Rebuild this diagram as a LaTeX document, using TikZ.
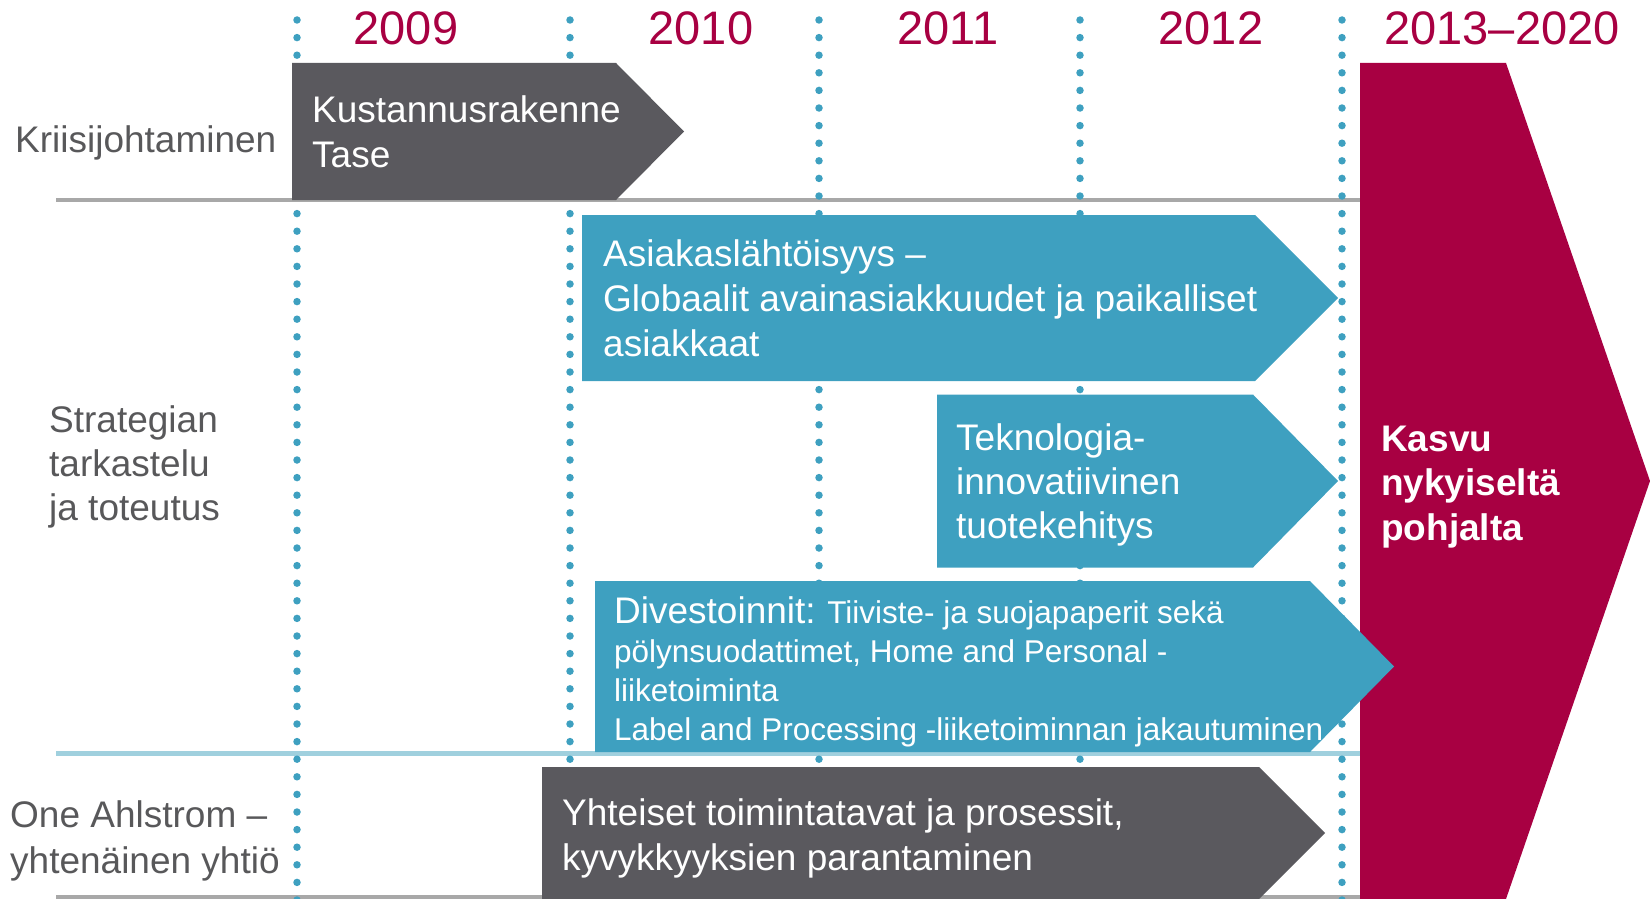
\documentclass[tikz,border=0pt]{standalone}
\usepackage{fontspec}
\setmainfont{Liberation Sans}
\definecolor{crim}{RGB}{168,0,66}
\definecolor{tblue}{RGB}{62,160,192}
\definecolor{dgray}{RGB}{90,89,94}
\definecolor{lgray}{RGB}{168,168,168}
\definecolor{lblue}{RGB}{160,208,222}
\definecolor{txtgray}{RGB}{88,88,90}
\tikzset{
  yearlbl/.style={text=crim, font=\fontsize{47}{56}\selectfont, anchor=base, inner sep=0pt},
  rowlbl/.style={text=txtgray, font=\fontsize{37}{44.5}\selectfont, anchor=base west, inner sep=0pt, align=left},
  boxtxt/.style={text=white, font=\fontsize{37}{44.5}\selectfont, anchor=base west, inner sep=0pt, align=left},
  smalltxt/.style={text=white, font=\fontsize{31.5}{39}\selectfont, anchor=base west, inner sep=0pt, align=left},
  dotline/.style={tblue, line width=7.5pt, line cap=round, dash pattern=on 0pt off 17.6pt},
  grayline/.style={lgray, line width=4pt},
  blueline/.style={lblue, line width=5pt},
  grayarrow/.style={fill=dgray},
  bluearrow/.style={fill=tblue},
}
\begin{document}
\begin{tikzpicture}[x=1pt,y=-1pt]
\useasboundingbox (0,0) rectangle (1650,899);
% separator lines
\draw[grayline] (56,200) -- (1360,200);
\draw[blueline] (56,753) -- (1360,753);
\draw[grayline] (56,897) -- (1360,897);
% dotted year dividers
\foreach \xx in {297,570,819,1080,1342}{
  \draw[dotline] (\xx,20) -- (\xx,905);
}
% years
\node[yearlbl] (y2009) at (406,45) {2009};
\node[yearlbl] (y2010) at (701,45) {2010};
\node[yearlbl] (y2011) at (948,45) {2011};
\node[yearlbl] (y2012) at (1211,45) {2012};
\node[yearlbl] (y2013) at (1502,45) {2013–2020};
% row labels (anchor = baseline of last line)
\node[rowlbl] (lkriisi) at (15,152) {Kriisijohtaminen};
\node[rowlbl, font=\fontsize{37}{44}\selectfont] (lstrat) at (49,520) {Strategian\\tarkastelu\\ja toteutus};
\node[rowlbl, font=\fontsize{37}{46}\selectfont] (lone) at (10,873) {One Ahlstrom –\\yhtenäinen yhtiö};
% arrows
\fill[grayarrow] (292,63) -- (616,63) -- (684,131.5) -- (616,200) -- (292,200) -- cycle;
\fill[bluearrow] (582,215) -- (1255,215) -- (1338,298) -- (1255,381) -- (582,381) -- cycle;
\fill[bluearrow] (937,394.5) -- (1253,394.5) -- (1338,481) -- (1253,567.5) -- (937,567.5) -- cycle;
\fill[grayarrow] (542,767) -- (1259,767) -- (1325,833) -- (1259,899) -- (542,899) -- cycle;
% red block
\fill[crim] (1360,63) -- (1506,63) -- (1650,481) -- (1506,899) -- (1360,899) -- cycle;
\fill[bluearrow] (595,581) -- (1310,581) -- (1394,666.5) -- (1310,752) -- (595,752) -- cycle;
% box texts (anchor = baseline of last line)
\node[boxtxt, font=\fontsize{37}{45}\selectfont] (tkust) at (312,167) {Kustannusrakenne\\Tase};
\node[boxtxt, font=\fontsize{37}{45}\selectfont] (tasiak) at (603,356) {Asiakaslähtöisyys –\\Globaalit avainasiakkuudet ja paikalliset\\asiakkaat};
\node[boxtxt, font=\fontsize{37}{44}\selectfont] (ttekn) at (956,538) {Teknologia-\\innovatiivinen\\tuotekehitys};
\node[smalltxt] (tdiv) at (614,740) {{\fontsize{37}{39}\selectfont Divestoinnit:} Tiiviste- ja suojapaperit sekä\\pölynsuodattimet, Home and Personal -\\liiketoiminta\\Label and Processing -liiketoiminnan jakautuminen};
\node[boxtxt, font=\fontsize{37}{45}\selectfont] (tyht) at (562,870) {Yhteiset toimintatavat ja prosessit,\\kyvykkyyksien parantaminen};
\node[boxtxt, font=\fontsize{37}{44.5}\selectfont\bfseries] (tkasvu) at (1381,540) {Kasvu\\nykyiseltä\\pohjalta};
\end{tikzpicture}
\end{document}
